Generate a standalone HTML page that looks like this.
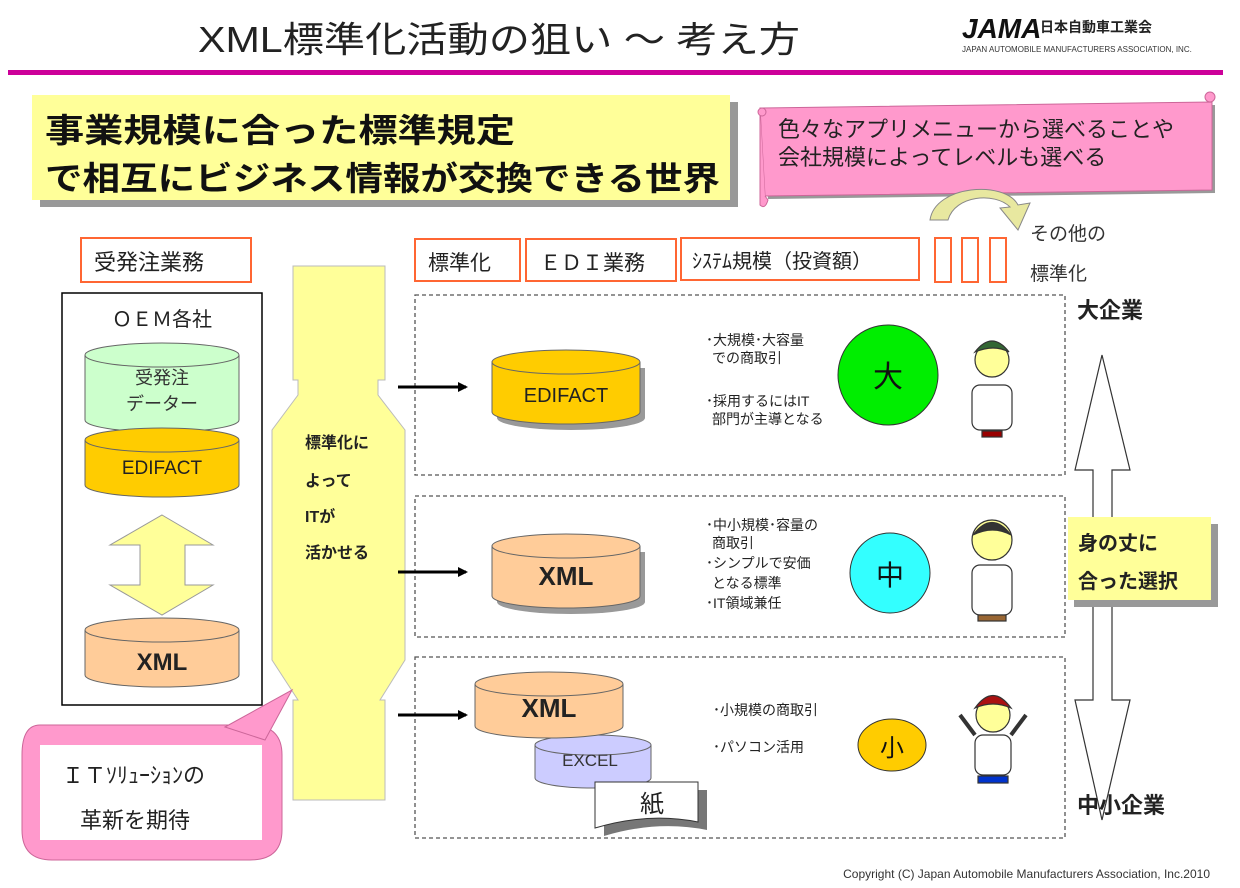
<!DOCTYPE html>
<html><head><meta charset="utf-8"><style>
html,body{margin:0;padding:0;background:#fff;}
svg{display:block;}
text{font-family:"Liberation Sans","Noto Sans CJK JP",sans-serif;}
</style></head><body>
<svg width="1240" height="888" viewBox="0 0 1240 888" xmlns="http://www.w3.org/2000/svg">
<defs>
<marker id="ah" markerWidth="10" markerHeight="10" refX="8" refY="5" orient="auto" markerUnits="userSpaceOnUse"><path d="M0,0 L10,5 L0,10 z" fill="#000"/></marker>
</defs>
<!-- title -->
<text x="198" y="52" font-size="36" fill="#222" textLength="602" lengthAdjust="spacingAndGlyphs">XML標準化活動の狙い ～ 考え方</text>
<text x="962" y="38" font-size="28" font-weight="bold" font-style="italic" fill="#111">JAMA</text>
<text x="1040" y="32" font-size="14" font-weight="bold" fill="#222">日本自動車工業会</text>
<text x="962" y="52" font-size="8" fill="#333">JAPAN AUTOMOBILE MANUFACTURERS ASSOCIATION, INC.</text>
<rect x="8" y="70" width="1215" height="5" fill="#cc0099"/>

<!-- yellow headline -->
<rect x="40" y="102" width="698" height="105" fill="#999"/>
<rect x="32" y="95" width="698" height="105" fill="#ffff99"/>
<text x="45" y="142" font-size="33" font-weight="bold" fill="#111" textLength="470" lengthAdjust="spacingAndGlyphs">事業規模に合った標準規定</text>
<text x="45" y="190" font-size="33" font-weight="bold" fill="#111" textLength="675" lengthAdjust="spacingAndGlyphs">で相互にビジネス情報が交換できる世界</text>

<!-- pink scroll -->
<path d="M760,108 L1212,102 L1212,190 L765,196 Z" fill="#999" transform="translate(3,3)"/>
<path d="M760,108 L1212,102 L1212,190 L765,196 Z" fill="#ff99cc" stroke="#cc6699"/>
<path d="M760,108 L760,205 Q765,210 768,200 L765,196" fill="#ff99cc" stroke="#cc6699"/>
<circle cx="1210" cy="97" r="5" fill="#ff99cc" stroke="#cc6699"/>
<circle cx="762" cy="112" r="4" fill="#ff99cc" stroke="#cc6699"/>
<text x="778" y="137" font-size="22" fill="#222">色々なアプリメニューから選べることや</text>
<text x="778" y="165" font-size="22" fill="#222">会社規模によってレベルも選べる</text>

<!-- curved arrow -->
<path d="M930,220 C935,185 1005,180 1018,205 L1030,203 L1018,230 L1000,208 L1010,207 C995,192 955,195 948,220 Z" fill="#e8e8a0" stroke="#888"/>
<text x="1030" y="240" font-size="19" fill="#333">その他の</text>
<text x="1030" y="280" font-size="19" fill="#333">標準化</text>

<!-- header boxes -->
<g fill="#fff" stroke="#ff6633" stroke-width="2">
<rect x="81" y="238" width="170" height="44"/>
<rect x="415" y="239" width="105" height="42"/>
<rect x="526" y="239" width="150" height="42"/>
<rect x="681" y="238" width="238" height="42"/>
<rect x="935" y="238" width="16" height="44"/>
<rect x="962" y="238" width="16" height="44"/>
<rect x="990" y="238" width="16" height="44"/>
</g>
<text x="94" y="270" font-size="22" fill="#222">受発注業務</text>
<text x="428" y="270" font-size="21" fill="#222">標準化</text>
<text x="540" y="270" font-size="21" fill="#222">ＥＤＩ業務</text>
<text x="692" y="268" font-size="20" fill="#222">ｼｽﾃﾑ規模（投資額）</text>

<!-- OEM box -->
<rect x="62" y="293" width="200" height="412" fill="#fff" stroke="#000" stroke-width="1.5"/>
<text x="162" y="326" font-size="20" text-anchor="middle" fill="#222">ＯＥＭ各社</text>
<g stroke="#666" stroke-width="1">
<path d="M85,355 v65 a77,12 0 0 0 154,0 v-65" fill="#ccffcc"/>
<ellipse cx="162" cy="355" rx="77" ry="12" fill="#ccffcc"/>
<path d="M85,440 v45 a77,12 0 0 0 154,0 v-45" fill="#ffcc00"/>
<ellipse cx="162" cy="440" rx="77" ry="12" fill="#ffcc00"/>
<path d="M85,630 v45 a77,12 0 0 0 154,0 v-45" fill="#ffcc99"/>
<ellipse cx="162" cy="630" rx="77" ry="12" fill="#ffcc99"/>
</g>
<text x="162" y="384" font-size="18" text-anchor="middle" fill="#333">受発注</text>
<text x="162" y="410" font-size="18" text-anchor="middle" fill="#333">データー</text>
<text x="162" y="474" font-size="19" text-anchor="middle" fill="#222">EDIFACT</text>
<text x="162" y="670" font-size="24" font-weight="bold" text-anchor="middle" fill="#222">XML</text>
<path d="M162,515 L213,545 L185,545 L185,585 L213,585 L162,615 L110,585 L140,585 L140,545 L110,545 Z" fill="#ffff99" stroke="#999"/>

<!-- tall yellow -->
<path d="M293,266 L385,266 L385,380 L378,380 L378,395 L405,430 L405,660 L380,700 L385,700 L385,800 L293,800 L293,700 L298,700 L272,660 L272,430 L298,395 L298,380 L293,380 Z" fill="#ffff99" stroke="#bbb"/>
<text x="305" y="448" font-size="16" font-weight="bold" fill="#222">標準化に</text>
<text x="305" y="486" font-size="16" font-weight="bold" fill="#222">よって</text>
<text x="305" y="522" font-size="16" font-weight="bold" fill="#222">ITが</text>
<text x="305" y="558" font-size="16" font-weight="bold" fill="#222">活かせる</text>

<!-- callout -->
<path d="M40,725 L250,725 Q282,725 282,755 L282,830 Q282,860 250,860 L52,860 Q22,860 22,830 L22,755 Q22,725 40,725 Z" fill="#ff99cc" stroke="#cc6699"/>
<path d="M225,727 L292,690 L265,740 Z" fill="#ff99cc" stroke="#cc6699"/>
<rect x="40" y="745" width="222" height="95" fill="#fff"/>
<text x="62" y="783" font-size="22" fill="#222">ＩＴｿﾘｭｰｼｮﾝの</text>
<text x="80" y="828" font-size="22" fill="#222">革新を期待</text>

<!-- dashed boxes -->
<g fill="none" stroke="#555" stroke-width="1.3" stroke-dasharray="4,3">
<rect x="415" y="295" width="650" height="180"/>
<rect x="415" y="496" width="650" height="141"/>
<rect x="415" y="657" width="650" height="181"/>
</g>
<g stroke="#000" stroke-width="3">
<line x1="398" y1="387" x2="466" y2="387" marker-end="url(#ah)"/>
<line x1="398" y1="572" x2="466" y2="572" marker-end="url(#ah)"/>
<line x1="398" y1="715" x2="466" y2="715" marker-end="url(#ah)"/>
</g>

<!-- right cylinders -->
<g stroke="#666">
<path d="M497,368 v50 a74,12 0 0 0 148,0 v-50" fill="#999" stroke="none"/>
<path d="M492,362 v50 a74,12 0 0 0 148,0 v-50" fill="#ffcc00"/>
<ellipse cx="566" cy="362" rx="74" ry="12" fill="#ffcc00"/>
<path d="M497,552 v50 a74,12 0 0 0 148,0 v-50" fill="#999" stroke="none"/>
<path d="M492,546 v50 a74,12 0 0 0 148,0 v-50" fill="#ffcc99"/>
<ellipse cx="566" cy="546" rx="74" ry="12" fill="#ffcc99"/>
<path d="M535,745 v33 a58,10 0 0 0 116,0 v-33" fill="#ccccff"/>
<ellipse cx="593" cy="745" rx="58" ry="10" fill="#ccccff"/>
<path d="M475,684 v42 a74,12 0 0 0 148,0 v-42" fill="#ffcc99"/>
<ellipse cx="549" cy="684" rx="74" ry="12" fill="#ffcc99"/>
<path d="M600,787 h103 v40 q-50,-10 -103,6 z" fill="#777" stroke="none" transform="translate(4,3)"/>
<path d="M595,782 h103 v40 q-50,-10 -103,6 z" fill="#fff" stroke="#333"/>
</g>
<text x="566" y="402" font-size="20" text-anchor="middle" fill="#222">EDIFACT</text>
<text x="566" y="585" font-size="26" font-weight="bold" text-anchor="middle" fill="#222">XML</text>
<text x="549" y="717" font-size="26" font-weight="bold" text-anchor="middle" fill="#222">XML</text>
<text x="590" y="766" font-size="17" text-anchor="middle" fill="#333">EXCEL</text>
<text x="652" y="812" font-size="24" text-anchor="middle" fill="#222">紙</text>

<!-- bullet texts -->
<g font-size="14" fill="#222">
<text x="706" y="345">･大規模･大容量</text>
<text x="712" y="363">での商取引</text>
<text x="706" y="406">･採用するにはIT</text>
<text x="712" y="424">部門が主導となる</text>
<text x="706" y="530">･中小規模･容量の</text>
<text x="712" y="548">商取引</text>
<text x="706" y="568">･シンプルで安価</text>
<text x="712" y="588">となる標準</text>
<text x="706" y="608">･IT領域兼任</text>
<text x="713" y="715">･小規模の商取引</text>
<text x="713" y="752">･パソコン活用</text>
</g>
<!-- circles -->
<circle cx="888" cy="375" r="50" fill="#00ee00" stroke="#333"/>
<text x="888" y="387" font-size="30" text-anchor="middle" fill="#111">大</text>
<ellipse cx="890" cy="573" rx="40" ry="40" fill="#33ffff" stroke="#333"/>
<text x="890" y="585" font-size="28" text-anchor="middle" fill="#111">中</text>
<ellipse cx="892" cy="745" rx="34" ry="26" fill="#ffcc00" stroke="#333"/>
<text x="892" y="756" font-size="24" text-anchor="middle" fill="#111">小</text>

<!-- figures (simplified) -->
<g stroke="#333" stroke-width="1.2">
<rect x="972" y="385" width="40" height="45" rx="8" fill="#fff"/>
<circle cx="992" cy="360" r="17" fill="#ffff99"/>
<path d="M975,352 q17,-22 34,0 q-15,-8 -34,0z" fill="#336633"/>
<rect x="982" y="431" width="20" height="6" fill="#990000"/>
<rect x="972" y="565" width="40" height="50" rx="8" fill="#fff"/>
<circle cx="992" cy="540" r="20" fill="#ffff99"/>
<path d="M973,535 q19,-25 38,0 q-18,-10 -38,0z" fill="#333"/>
<rect x="978" y="615" width="28" height="6" fill="#996633"/>
<rect x="975" y="735" width="36" height="40" rx="8" fill="#fff"/>
<circle cx="993" cy="715" r="17" fill="#ffff99"/>
<path d="M975,708 q18,-25 36,0 q-18,-8 -36,0z" fill="#aa1111"/>
<path d="M975,735 l-15,-20 M1011,735 l15,-20" stroke-width="4" stroke="#333"/>
<rect x="978" y="776" width="30" height="7" fill="#0033cc"/>
</g>

<!-- big double arrow -->
<path d="M1102,355 L1130,470 L1112,470 L1112,700 L1130,700 L1102,820 L1075,700 L1093,700 L1093,470 L1075,470 Z" fill="#fff" stroke="#333" stroke-width="1.2"/>
<rect x="1074" y="524" width="144" height="83" fill="#999"/>
<rect x="1068" y="517" width="143" height="83" fill="#ffff99"/>
<text x="1078" y="550" font-size="20" font-weight="bold" fill="#222">身の丈に</text>
<text x="1078" y="588" font-size="20" font-weight="bold" fill="#222">合った選択</text>
<text x="1077" y="318" font-size="22" font-weight="bold" fill="#222">大企業</text>
<text x="1077" y="813" font-size="22" font-weight="bold" fill="#222">中小企業</text>
<text x="1210" y="878" font-size="12" text-anchor="end" fill="#333">Copyright (C) Japan Automobile Manufacturers Association, Inc.2010</text>
</svg>
</body></html>
